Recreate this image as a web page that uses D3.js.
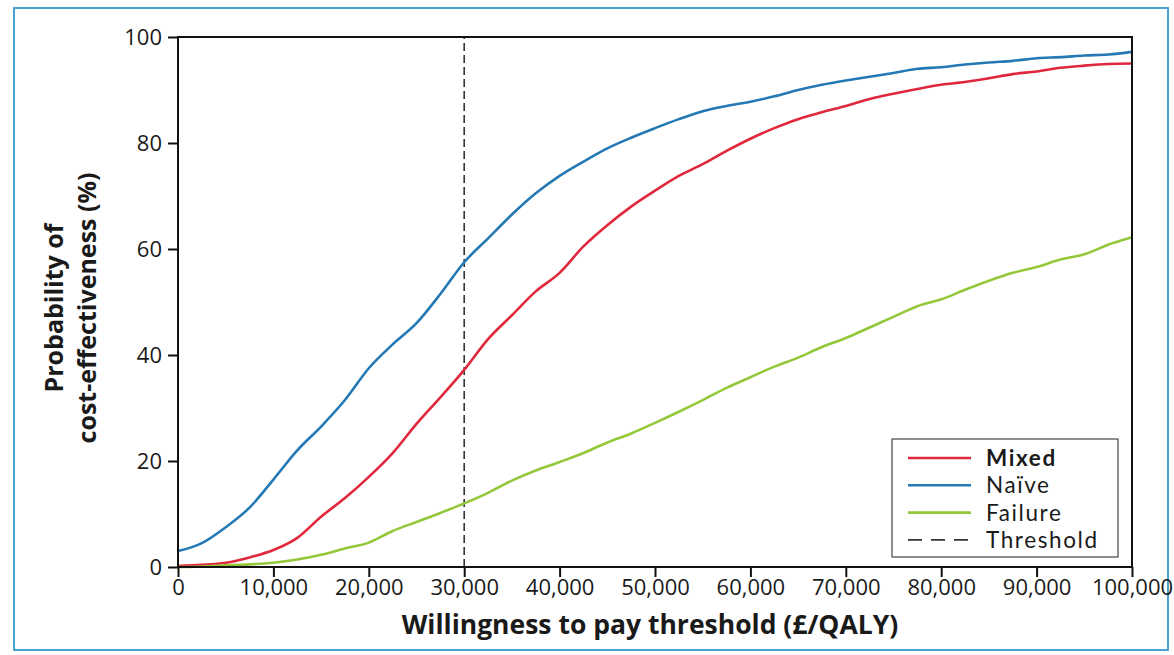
<!DOCTYPE html>
<html><head><meta charset="utf-8">
<script src="https://cdn.jsdelivr.net/npm/d3@7"></script>
<style>
body{margin:0;background:#fff;}
text{font-family:"Open Sans",sans-serif;fill:#1a1a1a;}
</style>
</head><body>
<svg id="c" width="1174" height="655"></svg>
<script>
// ---- data ----
const wtp = [0,2500,5000,7500,10000,12500,15000,17500,20000,22500,25000,27500,30000,32500,35000,37500,40000,42500,45000,47500,50000,52500,55000,57500,60000,62500,65000,67500,70000,72500,75000,77500,80000,82500,85000,87500,90000,92500,95000,97500,100000];
const mixed = [0.2,0.4,0.8,1.8,3.2,5.5,9.5,13,17,21.5,27,32,37.2,43,47.5,52,55.5,60.5,64.5,68,71,73.8,76,78.5,80.8,82.8,84.5,85.8,87,88.3,89.3,90.2,91,91.5,92.2,93,93.5,94.2,94.6,94.9,95];
const naive = [3.0,4.5,7.5,11.2,16.5,22,26.5,31.5,37.5,42,46,51.5,57.5,62,66.5,70.5,73.8,76.5,79,81,82.8,84.5,86,87,87.8,88.8,90,91,91.8,92.5,93.2,94,94.3,94.8,95.2,95.5,96,96.2,96.5,96.7,97.2];
const failure = [0,0.1,0.3,0.5,0.8,1.4,2.3,3.5,4.6,6.8,8.5,10.2,12,14,16.3,18.2,19.8,21.5,23.5,25.2,27.2,29.3,31.5,33.8,35.8,37.8,39.5,41.5,43.2,45.2,47.2,49.2,50.5,52.3,54,55.5,56.6,58,59,60.8,62.2];
const seriesNames = ["Mixed","Naïve","Failure"];
const thresholdValue = 30000;
const thresholdLabel = "Threshold";
const xTicks = [0,10000,20000,30000,40000,50000,60000,70000,80000,90000,100000];
const yTicks = [0,20,40,60,80,100];
const xTitle = "Willingness to pay threshold (£/QALY)";
const yTitle = ["Probability of","cost-effectiveness (%)"];

// ---- chart ----
const colors = ["#e0283c","#2479b4","#94c83a"];
const seriesData = [mixed, naive, failure];
const svg = d3.select("#c");
const L = 178, R = 1132, T = 37, B = 567;

svg.append("rect").attr("x",14).attr("y",8).attr("width",1154).attr("height",642)
  .attr("fill","#fff").attr("stroke","#4ca2d6").attr("stroke-width",2);

const x = d3.scaleLinear().domain([0,100000]).range([L,R]);
const y = d3.scaleLinear().domain([0,100]).range([B,T]);

// threshold
svg.append("line").attr("x1",x(thresholdValue)).attr("x2",x(thresholdValue))
  .attr("y1",y(0)).attr("y2",y(100)).attr("stroke","#333").attr("stroke-width",1.6)
  .attr("stroke-dasharray","8,4");

const line = d3.line().x((d,i)=>x(wtp[i])).y(d=>y(d)).curve(d3.curveMonotoneX);
seriesData.forEach((s,k)=>{
  svg.append("path").datum(s).attr("d",line).attr("fill","none")
    .attr("stroke",colors[k]).attr("stroke-width",2.6).attr("stroke-linejoin","round");
});

// frame
svg.append("rect").attr("x",L).attr("y",T).attr("width",R-L).attr("height",B-T)
  .attr("fill","none").attr("stroke","#111").attr("stroke-width",2);

const xAxis = svg.append("g").attr("transform",`translate(0,${B})`)
  .call(d3.axisBottom(x).tickValues(xTicks).tickFormat(d3.format(",")).tickSize(10).tickPadding(2));
const yAxis = svg.append("g").attr("transform",`translate(${L},0)`)
  .call(d3.axisLeft(y).tickValues(yTicks).tickSize(10).tickPadding(6));
[xAxis,yAxis].forEach(g=>{
  g.select(".domain").remove();
  g.selectAll(".tick line").attr("stroke","#111").attr("stroke-width",2);
  g.selectAll(".tick text").style("font-family","'Open Sans',sans-serif").style("font-size","22px").attr("fill","#1a1a1a");
});

svg.append("text").attr("x",650).attr("y",634).attr("text-anchor","middle")
  .style("font-size","26.5px").style("font-weight","700").text(xTitle);

yTitle.forEach((t,i)=>{
  svg.append("text").attr("transform",`translate(${63+i*33},308) rotate(-90)`)
    .attr("text-anchor","middle").style("font-size","25px").style("font-weight","700").text(t);
});

// legend
const lg = svg.append("g");
lg.append("rect").attr("x",892).attr("y",439).attr("width",226).attr("height",118)
  .attr("fill","#fff").attr("stroke","#444").attr("stroke-width",1.2);
const entries = seriesNames.map((n,i)=>({name:n,color:colors[i],dash:null,bold:i===0}))
  .concat([{name:thresholdLabel,color:"#333",dash:"14,9",bold:false}]);
entries.forEach((e,i)=>{
  const yy = 458 + i*27.3;
  lg.append("line").attr("x1",908).attr("x2",971).attr("y1",yy).attr("y2",yy)
    .attr("stroke",e.color).attr("stroke-width",e.dash?1.8:2.6).attr("stroke-dasharray",e.dash);
  lg.append("text").attr("x",986).attr("y",yy+8).style("font-family","Lato,sans-serif")
    .style("font-size","22.5px").style("letter-spacing","1.6px")
    .style("font-weight",e.bold?"700":"400").text(e.name);
});
</script>
</body></html>
